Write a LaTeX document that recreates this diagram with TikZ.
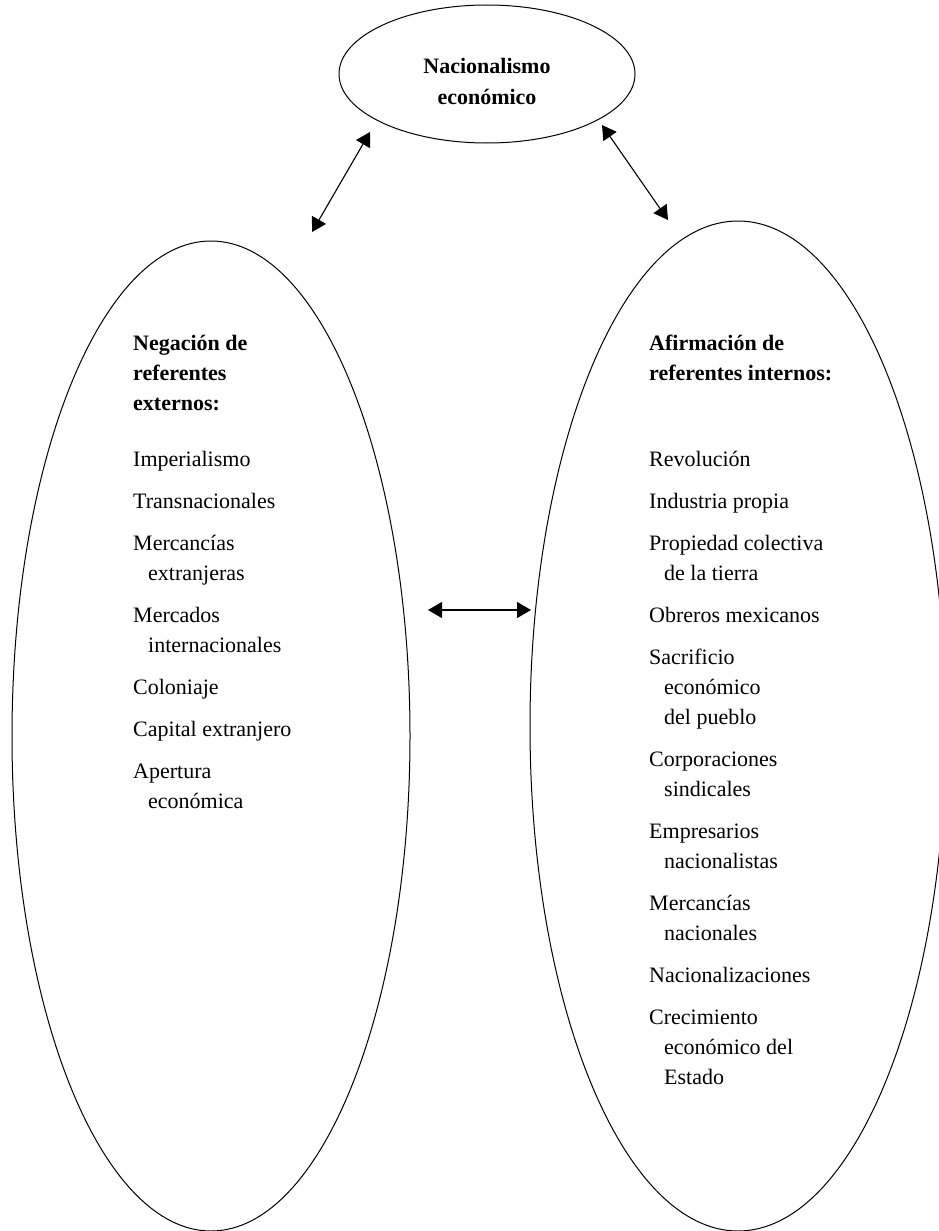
\documentclass[tikz,border=0pt]{standalone}
\usepackage{fontspec}
\setmainfont{Liberation Serif}
\usetikzlibrary{shapes.geometric,arrows.meta}
\begin{document}
\begin{tikzpicture}[x=1pt,y=-1pt,
  oval/.style={draw, ellipse, line width=1pt, inner sep=0pt},
  txt/.style={anchor=base west, inner sep=0pt, font=\fontsize{22}{30}\selectfont},
  hdr/.style={anchor=base west, inner sep=0pt, font=\fontsize{22}{30}\selectfont\bfseries},
  ttl/.style={anchor=base, inner sep=0pt, font=\fontsize{22}{30}\selectfont\bfseries},
  link/.style={line width=1.1pt, {Triangle[length=14pt,width=16pt]}-{Triangle[length=14pt,width=16pt]}}]
\useasboundingbox (0,0) rectangle (939,1231);
\clip (0,0) rectangle (939,1231);
% ovals
\node[oval, minimum width=296pt, minimum height=138pt] (top) at (487,74) {};
\node[oval, minimum width=398pt, minimum height=990pt] (left) at (211,736) {};
\node[oval, minimum width=416pt, minimum height=1010pt] (right) at (738,726) {};
% title
\node[ttl] (t1) at (487,74) {Nacionalismo};
\node[ttl] (t2) at (487,104) {económico};
% left
\node[hdr] (l1) at (133,350) {Negación de};
\node[hdr] (l2) at (133,380) {referentes};
\node[hdr] (l3) at (133,410) {externos:};
\node[txt] (la) at (133,466) {Imperialismo};
\node[txt] (lb) at (133,508) {Transnacionales};
\node[txt] (lc) at (133,550) {Mercancías};
\node[txt] (lc2) at (148,580) {extranjeras};
\node[txt] (ld) at (133,622) {Mercados};
\node[txt] (ld2) at (148,652) {internacionales};
\node[txt] (le) at (133,694) {Coloniaje};
\node[txt] (lf) at (133,736) {Capital extranjero};
\node[txt] (lg) at (133,778) {Apertura};
\node[txt] (lg2) at (148,808) {económica};
% right
\node[hdr] (r1) at (649,350) {Afirmación de};
\node[hdr] (r2) at (649,380) {referentes internos:};
\node[txt] (ra) at (649,466) {Revolución};
\node[txt] (rb) at (649,508) {Industria propia};
\node[txt] (rc) at (649,550) {Propiedad colectiva};
\node[txt] (rc2) at (664,580) {de la tierra};
\node[txt] (rd) at (649,622) {Obreros mexicanos};
\node[txt] (re) at (649,664) {Sacrificio};
\node[txt] (re2) at (664,694) {económico};
\node[txt] (re3) at (664,724) {del pueblo};
\node[txt] (rf) at (649,766) {Corporaciones};
\node[txt] (rf2) at (664,796) {sindicales};
\node[txt] (rg) at (649,838) {Empresarios};
\node[txt] (rg2) at (664,868) {nacionalistas};
\node[txt] (rh) at (649,910) {Mercancías};
\node[txt] (rh2) at (664,940) {nacionales};
\node[txt] (ri) at (649,982) {Nacionalizaciones};
\node[txt] (rj) at (649,1024) {Crecimiento};
\node[txt] (rj2) at (664,1054) {económico del};
\node[txt] (rj3) at (664,1084) {Estado};
% connector ends
\coordinate (a1) at (370,132);
\coordinate (a2) at (312,232);
\coordinate (b1) at (602,125);
\coordinate (b2) at (668,220);
\coordinate (c1) at (428,610);
\coordinate (c2) at (531,610);
\draw[link] (a2) -- (a1);
\draw[link] (b1) -- (b2);
\draw[link] (c1) -- (c2);
\end{tikzpicture}
\end{document}
